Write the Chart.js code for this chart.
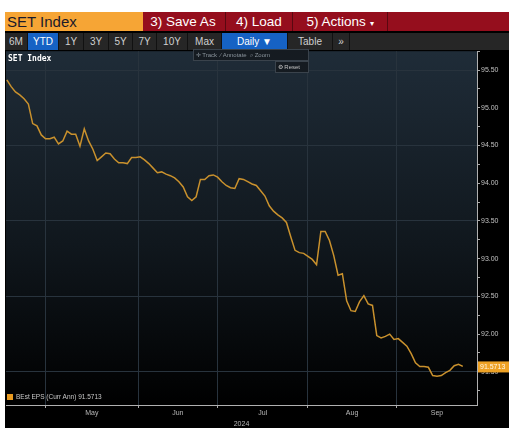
<!DOCTYPE html>
<html>
<head>
<meta charset="utf-8">
<script src="https://cdn.jsdelivr.net/npm/chart.js@4.4.1/dist/chart.umd.min.js"></script>
<style>
  body { margin: 0; background: #fff; width: 509px; height: 428px; overflow: hidden; font-family: "Liberation Sans", Arial, sans-serif; }
  #frame { position: absolute; left: 5px; top: 12px; width: 504px; height: 416px; background: #000; }
  #bar1 { position: absolute; left: 0; top: 0; width: 504px; height: 19px; background: #950e1d; }
  #bar1 div { position: absolute; top: 0; height: 19px; line-height: 19px; color: #fff; font-size: 13.5px; border-right: 1px solid #5a0810; }
  #ticker { left: 0; width: 136px; background: #f6a535; color: #1a1a2a !important; font-size: 15px !important; padding-left: 2px; border-right: none !important; }
  #bar2 { position: absolute; left: 0; top: 21px; width: 504px; height: 17px; background: #262626; }
  #bar2 div { position: absolute; top: 0; height: 17px; line-height: 17px; color: #d0d0d0; font-size: 10px; text-align: center; border-right: 1px solid #111; }
  #bar2 .on { background: #1662c4; color: #fff; }
  #chartbox { position: absolute; left: 5px; top: 46px; width: 504px; height: 382px; }
  #title { position: absolute; left: 8px; top: 54px; color: #fff; font: bold 8px "DejaVu Sans Mono", monospace; }
  .tool { position: absolute; background: #151b21; border: 1px solid #3a434c; color: #8a949c; font-size: 6px; line-height: 10px; height: 10px; }
  #legend { position: absolute; left: 7px; top: 393px; color: #c8c8c8; font-size: 6.5px; line-height: 8px; }
  #legend span { display: inline-block; width: 6px; height: 6px; background: #e89a20; margin-right: 3px; vertical-align: -1px; }
</style>
</head>
<body>
<div id="frame">
  <div id="bar1">
    <div id="ticker">SET Index</div>
    <div style="left:136px;width:84px;text-align:center">3) Save As</div>
    <div style="left:221px;width:66px;text-align:center">4) Load</div>
    <div style="left:288px;width:94px;text-align:center">5) Actions <span style="font-size:8px">&#9662;</span></div>
  </div>
  <div id="bar2">
    <div style="left:0;width:22px">6M</div>
    <div class="on" style="left:23px;width:30px">YTD</div>
    <div style="left:54px;width:24px">1Y</div>
    <div style="left:79px;width:24px">3Y</div>
    <div style="left:104px;width:23px">5Y</div>
    <div style="left:128px;width:23px">7Y</div>
    <div style="left:152px;width:30px">10Y</div>
    <div style="left:183px;width:33px">Max</div>
    <div class="on" style="left:217px;width:65px">Daily &#9660;</div>
    <div style="left:283px;width:44px">Table</div>
    <div style="left:328px;width:16px">&#187;</div>
  </div>
</div>
<div id="chartbox"><canvas id="chart"></canvas></div>
<div id="title">SET Index</div>
<div class="tool" style="left:193px;top:49px;width:114px;">&nbsp;&#10011; Track &nbsp;&#8725; Annotate &nbsp;&#8981; Zoom</div>
<div class="tool" style="left:275px;top:61px;width:32px;color:#c0c0c0">&nbsp;&#9881; Reset</div>
<div id="legend"><span></span>BEst EPS (Curr Ann) 91.5713</div>
<script>
'use strict';
// daily values, late April to mid September 2024
const values = [
  95.37, 95.28, 95.21, 95.17, 95.12, 95.05, 94.79, 94.76, 94.64, 94.59,
  94.59, 94.61, 94.52, 94.56, 94.69, 94.65, 94.65, 94.49, 94.72, 94.56,
  94.45, 94.30, 94.35, 94.40, 94.39, 94.32, 94.27, 94.27, 94.26, 94.34,
  94.34, 94.35, 94.31, 94.26, 94.20, 94.14, 94.15, 94.12, 94.10, 94.07,
  94.02, 93.95, 93.82, 93.77, 93.82, 94.05, 94.05, 94.10, 94.11, 94.08,
  94.02, 93.97, 93.94, 93.93, 94.06, 94.05, 94.02, 93.99, 93.97, 93.90,
  93.83, 93.70, 93.63, 93.58, 93.54, 93.48, 93.29, 93.11, 93.08, 93.07,
  93.03, 92.99, 92.92, 93.36, 93.36, 93.24, 93.04, 92.78, 92.80, 92.44,
  92.31, 92.30, 92.43, 92.51, 92.40, 92.38, 91.98, 91.95, 91.97, 92.00,
  91.93, 91.94, 91.89, 91.84, 91.74, 91.62, 91.57, 91.57, 91.56, 91.45,
  91.44, 91.45, 91.49, 91.52, 91.58, 91.60, 91.5713
];
const months = ['May', 'Jun', 'Jul', 'Aug', 'Sep'];
const monthStarts = [9, 30.5, 49, 70, 90.5];
const monthMids = [19.75, 39.75, 59.5, 80.25, 100];
const yearLabel = '2024';
const xMin = -0.2;
const xMax = 109.3;
const yMin = 91.06;
const yMax = 95.75;

const lastValue = values[values.length - 1];

const bgPlugin = {
  id: 'bg',
  beforeDraw(chart) {
    const a = chart.chartArea;
    const ctx = chart.ctx;
    const g = ctx.createLinearGradient(0, a.top, 0, a.bottom);
    g.addColorStop(0, '#1f2c38');
    g.addColorStop(0.55, '#10171d');
    g.addColorStop(1, '#000000');
    ctx.save();
    ctx.fillStyle = g;
    ctx.fillRect(a.left, a.top, a.right - a.left, a.bottom - a.top);
    ctx.restore();
  }
};

const tagPlugin = {
  id: 'tag',
  afterDraw(chart) {
    const a = chart.chartArea;
    const ctx = chart.ctx;
    const y = chart.scales.y.getPixelForValue(lastValue);
    ctx.save();
    ctx.fillStyle = '#eea225';
    ctx.fillRect(a.right + 1, y - 5, 31, 11);
    ctx.fillStyle = '#fff8e8';
    ctx.font = '7px "Liberation Sans", Arial';
    ctx.textBaseline = 'middle';
    ctx.fillText(lastValue.toFixed(4), a.right + 3, y + 0.5);
    ctx.restore();
  }
};

new Chart(document.getElementById('chart'), {
  type: 'line',
  data: {
    datasets: [{
      label: 'BEst EPS (Curr Ann)',
      data: values.map((v, i) => ({ x: i, y: v })),
      borderColor: '#c9912d',
      borderWidth: 1.5,
      pointRadius: 0,
      tension: 0
    }]
  },
  options: {
    responsive: true,
    maintainAspectRatio: false,
    animation: false,
    layout: { padding: { left: 1, top: 0, right: 0, bottom: 0 } },
    plugins: { legend: { display: false }, tooltip: { enabled: false } },
    scales: {
      x: {
        type: 'linear',
        position: 'bottom',
        weight: 0,
        min: xMin,
        max: xMax,
        afterBuildTicks: s => { s.ticks = monthStarts.map(v => ({ value: v })); },
        afterFit: s => { s.height = 3; },
        ticks: { display: false },
        grid: { color: '#28333d', tickColor: '#aaaaaa', tickLength: 3 },
        border: { color: '#b0b0b0', width: 1 }
      },
      xl: {
        type: 'linear',
        position: 'bottom',
        weight: 1,
        min: xMin,
        max: xMax,
        afterBuildTicks: s => { s.ticks = monthMids.map(v => ({ value: v })); },
        afterFit: s => { s.height = 20; },
        ticks: {
          autoSkip: false,
          maxRotation: 0,
          padding: 1,
          color: '#b8b8b8',
          font: { size: 7 },
          callback: v => months[monthMids.indexOf(v)]
        },
        grid: { display: false, drawTicks: false },
        border: { display: false },
        title: { display: true, text: yearLabel, color: '#b8b8b8', font: { size: 7 }, padding: 0 }
      },
      y: {
        position: 'right',
        min: yMin,
        max: yMax,
        afterBuildTicks: s => {
          const t = [];
          for (let v = 91.25; v <= 95.75; v += 0.25) t.push({ value: Math.round(v * 100) / 100 });
          s.ticks = t;
        },
        afterFit: s => { s.width = 32; },
        ticks: {
          padding: 1,
          color: '#c0c0c0',
          font: { size: 7 },
          callback: v => (Math.round(v * 100) % 50 === 0 ? v.toFixed(2) : '')
        },
        grid: {
          color: c => (c.tick && Math.round(c.tick.value * 100) % 100 === 50 ? '#28333d' : 'rgba(0,0,0,0)'),
          tickColor: '#aaaaaa',
          tickLength: 3
        },
        border: { color: '#b0b0b0', width: 1 }
      }
    }
  },
  plugins: [bgPlugin, tagPlugin]
});
</script>
</body>
</html>
